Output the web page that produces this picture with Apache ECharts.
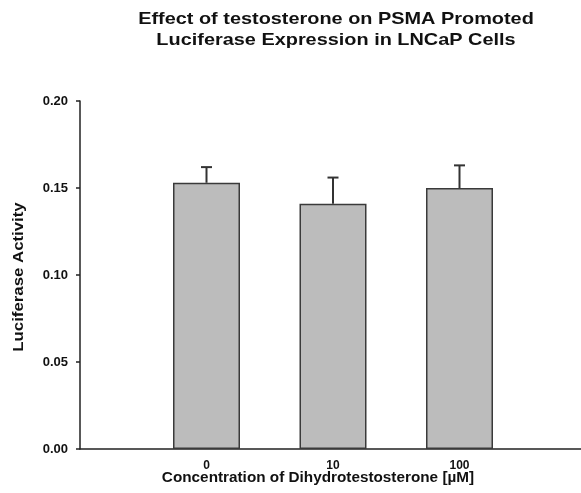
<!DOCTYPE html>
<html><head><meta charset="utf-8">
<script src="https://cdn.jsdelivr.net/npm/echarts@6/dist/echarts.min.js"></script>
<style>html,body{margin:0;padding:0;background:#fff}#c{width:581px;height:493px}</style>
</head><body><div id="c"></div>
<script>
var categories = ['0', '10', '100'];
var means = [0.153, 0.141, 0.150];
var errTops = [0.162, 0.156, 0.163];
var yTicks = [0, 0.05, 0.10, 0.15, 0.20];

var axisCats = [''].concat(categories).concat(['']);
var barData = [null].concat(means).concat([null]);
var errData = categories.map(function (c, i) { return [i + 1, means[i], errTops[i]]; });

var FONT = '"Liberation Sans", Arial, sans-serif';
var chart = echarts.init(document.getElementById('c'), null, {renderer: 'canvas'});
chart.setOption({
  animation: false,
  backgroundColor: '#fff',
  textStyle: {fontFamily: FONT},
  grid: {left: 80, top: 101, width: 506, bottom: 44, containLabel: false, outerBoundsMode: 'none'},
  graphic: [
    {type: 'text', x: 336, y: 9, scaleX: 1.17, style: {text: 'Effect of testosterone on PSMA Promoted\nLuciferase Expression in LNCaP Cells', font: 'bold 17px ' + FONT, fill: '#111', textAlign: 'center', lineHeight: 21}},
    {type: 'text', x: 318, y: 470, scaleX: 1.02, style: {text: 'Concentration of Dihydrotestosterone [\u00b5M]', font: 'bold 15px ' + FONT, fill: '#111', textAlign: 'center'}},
    {type: 'text', x: 12, y: 277, rotation: Math.PI / 2, scaleX: 1.2, style: {text: 'Luciferase Activity', font: 'bold 14px ' + FONT, fill: '#111', textAlign: 'center', textVerticalAlign: 'top'}}
  ],
  xAxis: {
    type: 'category', data: axisCats, boundaryGap: false,
    axisLine: {lineStyle: {color: '#222', width: 1.5}},
    axisTick: {show: false},
    axisLabel: {color: '#111', fontWeight: 'bold', fontSize: 12, margin: 11, fontFamily: FONT},
    splitLine: {show: false}
  },
  yAxis: {
    type: 'value', min: 0, max: 0.2, interval: 0.05,
    axisLine: {show: true, lineStyle: {color: '#222', width: 1.5}},
    axisTick: {show: true, length: 4, inside: false, lineStyle: {color: '#222', width: 1.5}},
    axisLabel: {color: '#111', fontWeight: 'bold', fontSize: 13, margin: 12, fontFamily: FONT,
      formatter: function (v) { return v.toFixed(2); }},
    splitLine: {show: false}
  },
  series: [
    {type: 'bar', data: barData, barWidth: 67,
      itemStyle: {color: '#bcbcbc', borderColor: '#3a3a3a', borderWidth: 1.5}},
    {type: 'custom', data: errData, z: 1,
      renderItem: function (params, api) {
        var x = api.value(0);
        var p0 = api.coord([x, api.value(1)]);
        var p1 = api.coord([x, api.value(2)]);
        var cap = 5.5;
        return {type: 'group', children: [
          {type: 'line', shape: {x1: p0[0], y1: p0[1], x2: p1[0], y2: p1[1]}, style: {stroke: '#333', lineWidth: 2}},
          {type: 'line', shape: {x1: p1[0] - cap, y1: p1[1], x2: p1[0] + cap, y2: p1[1]}, style: {stroke: '#333', lineWidth: 2}}
        ]};
      }}
  ]
});
</script></body></html>
